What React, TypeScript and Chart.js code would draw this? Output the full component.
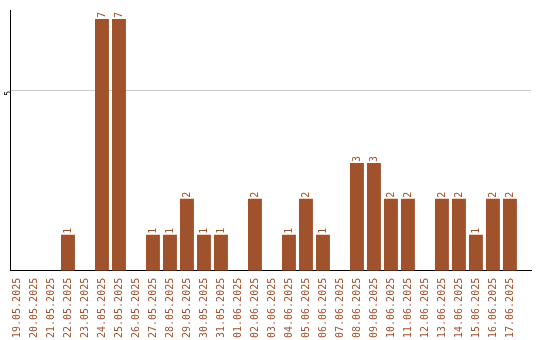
import React, { useEffect, useRef } from "react";
import { Chart, registerables } from "chart.js";

Chart.register(...registerables);

const dates = [
  "19.05.2025", "20.05.2025", "21.05.2025", "22.05.2025", "23.05.2025",
  "24.05.2025", "25.05.2025", "26.05.2025", "27.05.2025", "28.05.2025",
  "29.05.2025", "30.05.2025", "31.05.2025", "01.06.2025", "02.06.2025",
  "03.06.2025", "04.06.2025", "05.06.2025", "06.06.2025", "07.06.2025",
  "08.06.2025", "09.06.2025", "10.06.2025", "11.06.2025", "12.06.2025",
  "13.06.2025", "14.06.2025", "15.06.2025", "16.06.2025", "17.06.2025",
];

const counts = [
  0, 0, 0, 1, 0, 7, 7, 0, 1, 1,
  2, 1, 1, 0, 2, 0, 1, 2, 1, 0,
  3, 3, 2, 2, 0, 2, 2, 1, 2, 2,
];

const yTickValues = [5];

const BAR = "#A0522D";
const FONT = "'DejaVu Sans Mono', monospace";

const valueLabels = {
  id: "valueLabels",
  afterDatasetsDraw(chart: any) {
    const ctx = chart.ctx;
    const meta = chart.getDatasetMeta(0);
    ctx.save();
    ctx.fillStyle = BAR;
    ctx.font = `10px ${FONT}`;
    ctx.textAlign = "left";
    ctx.textBaseline = "middle";
    meta.data.forEach((el: any, i: number) => {
      const v = counts[i];
      if (!v) return;
      ctx.save();
      ctx.translate(el.x, el.y - 1);
      ctx.rotate(-Math.PI / 2);
      ctx.fillText(String(v), 0, 0);
      ctx.restore();
    });
    ctx.restore();
  },
};

export default function App() {
  const ref = useRef<HTMLCanvasElement>(null);
  useEffect(() => {
    const chart = new Chart(ref.current!, {
      type: "bar",
      data: {
        datasets: [
          {
            data: counts.map((v, i) => ({ x: i, y: v })),
            backgroundColor: BAR,
            borderWidth: 0,
            barPercentage: 0.82,
            categoryPercentage: 1,
          },
        ],
      },
      options: {
        responsive: false,
        animation: false,
        layout: { padding: { top: 10, right: 9, bottom: -5, left: 0 } },
        plugins: { legend: { display: false }, tooltip: { enabled: false } },
        scales: {
          x: {
            type: "linear",
            offset: false,
            min: -0.41,
            max: 30.24,
            grid: { display: false, drawTicks: false, offset: false },
            border: { display: true, color: "#000", width: 1 },
            afterBuildTicks: (scale: any) => {
              scale.ticks = dates.map((_, i) => ({ value: i }));
            },
            ticks: {
              autoSkip: false,
              minRotation: 90,
              maxRotation: 90,
              padding: 7,
              color: BAR,
              font: { family: FONT, size: 10 },
              callback: (v: any) => dates[v] ?? "",
            },
          },
          y: {
            min: 0,
            max: 7.25,
            grid: { color: "#cccccc", drawTicks: false },
            border: { display: true, color: "#000", width: 1 },
            afterBuildTicks: (scale: any) => {
              scale.ticks = yTickValues.map((v) => ({ value: v }));
            },
            ticks: {
              minRotation: 90,
              maxRotation: 90,
              padding: 1,
              color: "#000",
              font: { family: FONT, size: 8, lineHeight: 1 },
            },
          },
        },
      },
      plugins: [valueLabels],
    });
    return () => chart.destroy();
  }, []);
  return (
    <canvas
      ref={ref}
      width={540}
      height={340}
      style={{ position: "absolute", left: 0, top: 0 }}
    />
  );
}
